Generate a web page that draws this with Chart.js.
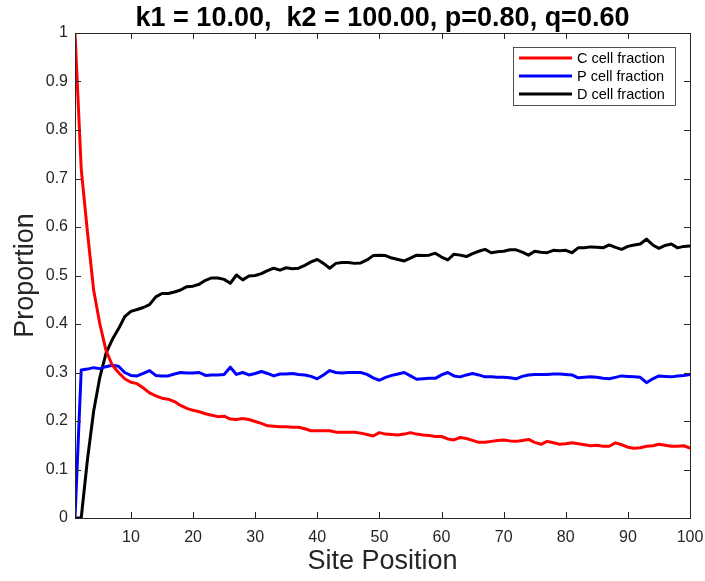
<!DOCTYPE html>
<html>
<head>
<meta charset="utf-8">
<script src="https://cdn.jsdelivr.net/npm/chart.js@4"></script>
<style>
  html, body { margin: 0; padding: 0; background: #fff; }
  #wrap { width: 705px; height: 581px; }
</style>
</head>
<body>
<div id="wrap"><canvas id="myChart" width="705" height="581"></canvas></div>
<script>
// site positions 1..100
var sites = [];
for (var i = 1; i <= 100; i++) sites.push(i);

var cFrac = [1.00, 0.72, 0.59, 0.47, 0.40, 0.345, 0.315, 0.30, 0.287, 0.280,
  0.277, 0.268, 0.258, 0.252, 0.247, 0.245, 0.240, 0.232, 0.226, 0.222,
  0.219, 0.215, 0.212, 0.209, 0.210, 0.204, 0.203, 0.205, 0.203, 0.199,
  0.195, 0.190, 0.189, 0.188, 0.188, 0.187, 0.187, 0.184, 0.180, 0.180,
  0.180, 0.180, 0.177, 0.177, 0.177, 0.177, 0.175, 0.172, 0.169, 0.176,
  0.173, 0.172, 0.171, 0.173, 0.176, 0.173, 0.171, 0.170, 0.168, 0.168,
  0.163, 0.161, 0.166, 0.164, 0.160, 0.156, 0.156, 0.158, 0.160, 0.161,
  0.159, 0.158, 0.160, 0.162, 0.156, 0.152, 0.158, 0.155, 0.152, 0.153,
  0.155, 0.153, 0.151, 0.149, 0.150, 0.148, 0.148, 0.155, 0.151, 0.146,
  0.144, 0.145, 0.148, 0.149, 0.152, 0.150, 0.148, 0.148, 0.149, 0.144];

var pFrac = [0, 0.305, 0.307, 0.310, 0.308, 0.312, 0.315, 0.313, 0.300, 0.294,
  0.293, 0.298, 0.304, 0.294, 0.293, 0.293, 0.297, 0.300, 0.299, 0.299,
  0.300, 0.294, 0.295, 0.295, 0.296, 0.311, 0.296, 0.300, 0.295, 0.298,
  0.302, 0.298, 0.293, 0.297, 0.297, 0.298, 0.296, 0.295, 0.292, 0.287,
  0.295, 0.304, 0.300, 0.299, 0.300, 0.300, 0.300, 0.296, 0.289, 0.284,
  0.290, 0.294, 0.297, 0.300, 0.293, 0.286, 0.287, 0.288, 0.288, 0.295,
  0.300, 0.293, 0.291, 0.295, 0.298, 0.295, 0.291, 0.291, 0.290, 0.290,
  0.289, 0.287, 0.292, 0.295, 0.296, 0.296, 0.296, 0.297, 0.297, 0.296,
  0.295, 0.289, 0.290, 0.291, 0.290, 0.288, 0.287, 0.290, 0.293, 0.292,
  0.291, 0.290, 0.279, 0.287, 0.293, 0.292, 0.291, 0.293, 0.294, 0.296];

var dFrac = [0, 0, 0.12, 0.22, 0.29, 0.34, 0.368, 0.39, 0.415, 0.426,
  0.430, 0.434, 0.440, 0.456, 0.463, 0.463, 0.466, 0.470, 0.477, 0.478,
  0.482, 0.490, 0.495, 0.495, 0.492, 0.484, 0.501, 0.491, 0.499, 0.500,
  0.504, 0.510, 0.515, 0.511, 0.516, 0.514, 0.515, 0.521, 0.528, 0.533,
  0.525, 0.515, 0.525, 0.527, 0.527, 0.525, 0.526, 0.532, 0.541, 0.542,
  0.541, 0.536, 0.533, 0.530, 0.536, 0.542, 0.541, 0.542, 0.546, 0.538,
  0.532, 0.544, 0.542, 0.539, 0.545, 0.550, 0.554, 0.547, 0.549, 0.550,
  0.553, 0.553, 0.548, 0.542, 0.550, 0.548, 0.547, 0.552, 0.551, 0.552,
  0.547, 0.557, 0.557, 0.559, 0.558, 0.557, 0.563, 0.558, 0.554, 0.560,
  0.563, 0.565, 0.575, 0.563, 0.556, 0.562, 0.565, 0.557, 0.560, 0.561];

var xTicks = [10, 20, 30, 40, 50, 60, 70, 80, 90, 100];
var yTicks = [0, 0.1, 0.2, 0.3, 0.4, 0.5, 0.6, 0.7, 0.8, 0.9, 1];

var titleText = 'k1 = 10.00,  k2 = 100.00, p=0.80, q=0.60';
var xTitle = 'Site Position';
var yTitle = 'Proportion';

var FONT = '"Liberation Sans", Arial, sans-serif';
var AXIS_COLOR = '#262626';

function toPoints(arr) {
  return arr.map(function(v, i) { return { x: sites[i], y: v }; });
}

// box, inward ticks, titles and legend, matlab style
var decor = {
  id: 'decor',
  afterDraw: function(chart) {
    var ctx = chart.ctx;
    var a = chart.chartArea;
    var xs = chart.scales.x, ys = chart.scales.y;
    ctx.save();
    ctx.strokeStyle = AXIS_COLOR;
    ctx.lineWidth = 1;
    ctx.strokeRect(a.left + 0.5, a.top + 0.5, a.right - a.left, a.bottom - a.top);
    ctx.beginPath();
    xTicks.forEach(function(t) {
      var px = Math.round(xs.getPixelForValue(t)) + 0.5;
      ctx.moveTo(px, a.bottom); ctx.lineTo(px, a.bottom - 6);
      ctx.moveTo(px, a.top); ctx.lineTo(px, a.top + 6);
    });
    yTicks.forEach(function(t) {
      var py = Math.round(ys.getPixelForValue(t)) + 0.5;
      ctx.moveTo(a.left, py); ctx.lineTo(a.left + 6, py);
      ctx.moveTo(a.right, py); ctx.lineTo(a.right - 6, py);
    });
    ctx.stroke();

    // title
    ctx.fillStyle = '#000';
    ctx.textAlign = 'center';
    ctx.textBaseline = 'alphabetic';
    ctx.font = 'bold 27px ' + FONT;
    ctx.fillText(titleText, (a.left + a.right) / 2, 26);

    // axis titles
    ctx.fillStyle = AXIS_COLOR;
    ctx.font = '27px ' + FONT;
    ctx.textBaseline = 'middle';
    ctx.fillText(xTitle, (a.left + a.right) / 2, 562);
    ctx.save();
    ctx.translate(26, (a.top + a.bottom) / 2);
    ctx.rotate(-Math.PI / 2);
    ctx.fillText(yTitle, 0, 0);
    ctx.restore();

    // legend
    ctx.fillStyle = '#fff';
    ctx.fillRect(513, 47, 162, 58);
    ctx.strokeStyle = '#262626';
    ctx.lineWidth = 0.8;
    ctx.strokeRect(513.5, 47.5, 162, 58);
    ctx.font = '14.5px ' + FONT;
    ctx.textAlign = 'left';
    chart.data.datasets.forEach(function(ds, i) {
      var y = 58 + i * 18;
      ctx.strokeStyle = ds.borderColor;
      ctx.lineWidth = 3;
      ctx.beginPath();
      ctx.moveTo(519, y); ctx.lineTo(572, y);
      ctx.stroke();
      ctx.fillStyle = '#000';
      ctx.fillText(ds.label, 577, y + 1);
    });
    ctx.restore();
  }
};

var ctx = document.getElementById('myChart').getContext('2d');
var chart = new Chart(ctx, {
  type: 'line',
  data: {
    datasets: [
      { label: 'C cell fraction', data: toPoints(cFrac), borderColor: '#ff0000' },
      { label: 'P cell fraction', data: toPoints(pFrac), borderColor: '#0000ff' },
      { label: 'D cell fraction', data: toPoints(dFrac), borderColor: '#000000' }
    ]
  },
  options: {
    responsive: false,
    animation: false,
    devicePixelRatio: 1,
    layout: { padding: { top: 33, right: 15, left: 0, bottom: 0 } },
    elements: {
      line: { borderWidth: 3, tension: 0, borderCapStyle: 'round', borderJoinStyle: 'round' },
      point: { radius: 0 }
    },
    plugins: { legend: { display: false }, title: { display: false }, tooltip: { enabled: false } },
    scales: {
      x: {
        type: 'linear', min: 1, max: 100,
        grid: { display: false, drawTicks: false },
        border: { display: false },
        afterBuildTicks: function(s) { s.ticks = xTicks.map(function(v) { return { value: v }; }); },
        afterFit: function(s) { s.height = 63; s.paddingLeft = 0; s.paddingRight = 0; },
        ticks: { color: AXIS_COLOR, font: { family: FONT, size: 16 }, padding: 10, maxRotation: 0 }
      },
      y: {
        type: 'linear', min: 0, max: 1,
        grid: { display: false, drawTicks: false },
        border: { display: false },
        afterBuildTicks: function(s) { s.ticks = yTicks.map(function(v) { return { value: v }; }); },
        afterFit: function(s) { s.width = 75; s.paddingTop = 0; s.paddingBottom = 0; },
        ticks: { color: AXIS_COLOR, font: { family: FONT, size: 16 }, padding: 7,
          callback: function(v) { return String(Math.round(v * 10) / 10); } }
      }
    }
  },
  plugins: [decor]
});
</script>
</body>
</html>
